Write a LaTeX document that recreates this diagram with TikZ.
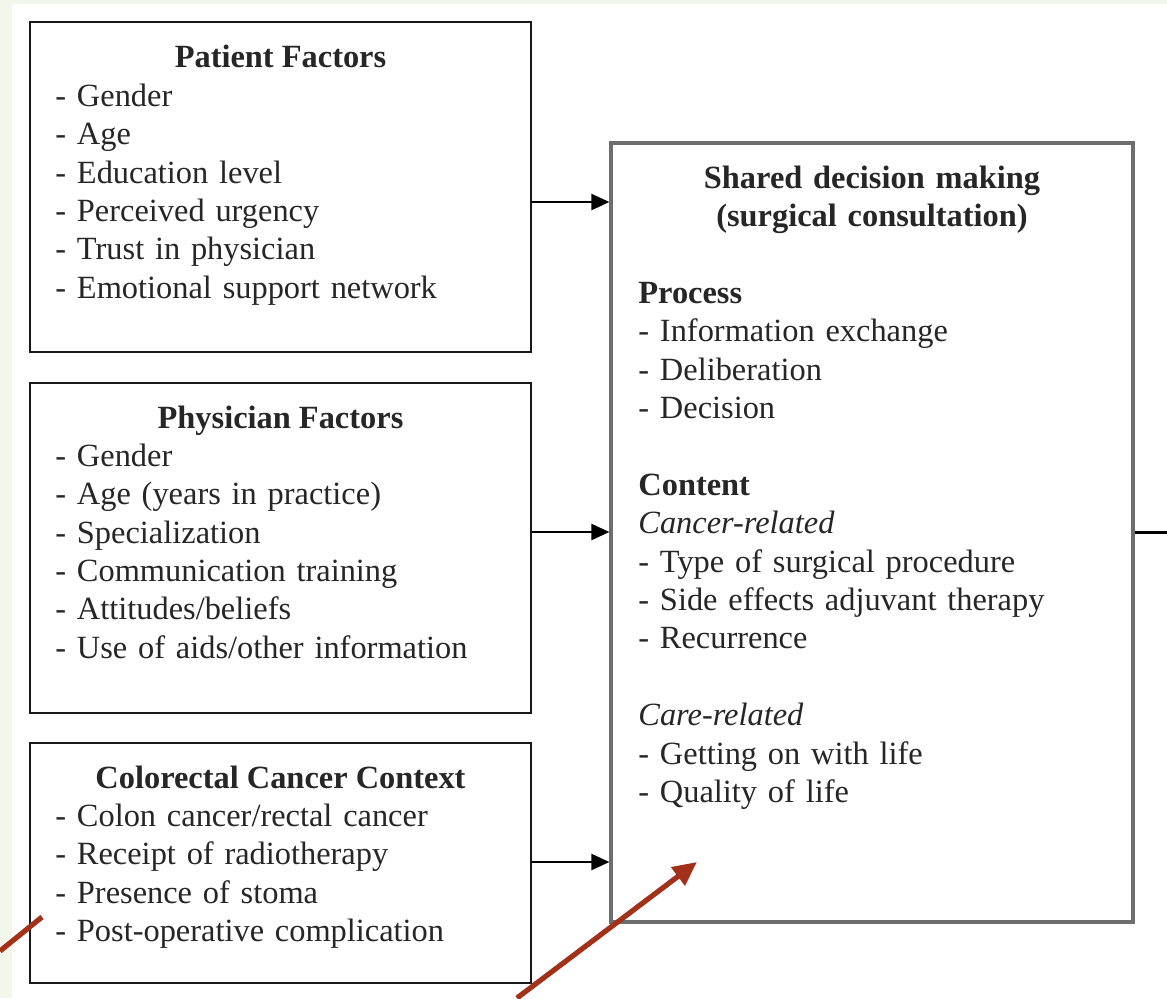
\documentclass[tikz,border=0pt]{standalone}
\usepackage{fontspec}
\setmainfont{Liberation Serif}
\usetikzlibrary{arrows.meta}

\definecolor{bgpale}{HTML}{F3F6EA}
\definecolor{sdmgray}{HTML}{6E6E6E}
\definecolor{brick}{HTML}{A2311A}

\tikzset{
    box/.style={draw=black!90, line width=1.2pt, inner sep=0pt, minimum width=250.5pt},
    head/.style={font=\fontsize{16.2}{19.2}\selectfont\bfseries, inner sep=0pt, text=black!85},
    list/.style={font=\fontsize{16.2}{19.2}\selectfont, inner sep=0pt, anchor=north west,
        align=left, text width=240pt, text=black!85},
    link/.style={line width=1.2pt, -{Triangle[length=9pt,width=8pt]}},
    redline/.style={draw=brick, line width=2.6pt}
}

\begin{document}
\begin{tikzpicture}[x=0.5pt, y=-0.5pt]
    % Фон
    \fill[bgpale] (0,0) rectangle (1167,998);
    \fill[white] (12,4) rectangle (1167,998);
    \useasboundingbox (0,0) rectangle (1167,998);

    % Факторы пациента
    \node[box, minimum height=165pt] (pat) at (280.5,187) {};
    \node[head, anchor=base] (patT) at (280.5,67) {Patient Factors};
    \node[list] (patL) at (55,79) {\strut- Gender\\- Age\\- Education level\\- Perceived urgency\\- Trust in physician\\- Emotional support network};

    % Факторы врача
    \node[box, minimum height=165pt] (phys) at (280.5,548) {};
    \node[head, anchor=base] (physT) at (280.5,428) {Physician Factors};
    \node[list] (physL) at (55,439) {\strut- Gender\\- Age (years in practice)\\- Specialization\\- Communication training\\- Attitudes/beliefs\\- Use of aids/other information};

    % Контекст
    \node[box, minimum height=120pt] (crc) at (280.5,863) {};
    \node[head, anchor=base] (crcT) at (280.5,788) {Colorectal Cancer Context};
    \node[list] (crcL) at (55,799) {\strut- Colon cancer/rectal cancer\\- Receipt of radiotherapy\\- Presence of stoma\\- Post-operative complication};

    % Правый блок
    \node[box, draw=sdmgray, line width=1.6pt, minimum width=261pt, minimum height=389.5pt] (sdm) at (872,532.5) {};
    \node[head, anchor=north, align=center, text width=250pt] (sdmT) at (872,161) {\strut Shared decision making\\(surgical consultation)};
    \node[list] (sdmL) at (638,276) {\strut\textbf{Process}\\- Information exchange\\- Deliberation\\- Decision\\[19.2pt]\textbf{Content}\\\textit{Cancer-related}\\- Type of surgical procedure\\- Side effects adjuvant therapy\\- Recurrence\\[19.2pt]\textit{Care-related}\\- Getting on with life\\- Quality of life};

    % Стрелки
    \draw[link] (pat.east |- 0,202) -- (sdm.west |- 0,202);
    \draw[link] (phys.east |- 0,532) -- (sdm.west |- 0,532);
    \draw[link] (crc.east |- 0,862) -- (sdm.west |- 0,862);
    \coordinate (exit) at (1167,532.5);
    \draw[line width=1.2pt] (sdm.east) -- (exit);

    % Красные указатели
    \coordinate (m1a) at (0,951);
    \coordinate (m1b) at (42,917);
    \coordinate (m2a) at (517,998);
    \coordinate (m2b) at (697,862);
    \draw[redline] (m1a) -- (m1b);
    \draw[redline, -{Triangle[length=12pt,width=11pt]}] (m2a) -- (m2b);
\end{tikzpicture}
\end{document}
